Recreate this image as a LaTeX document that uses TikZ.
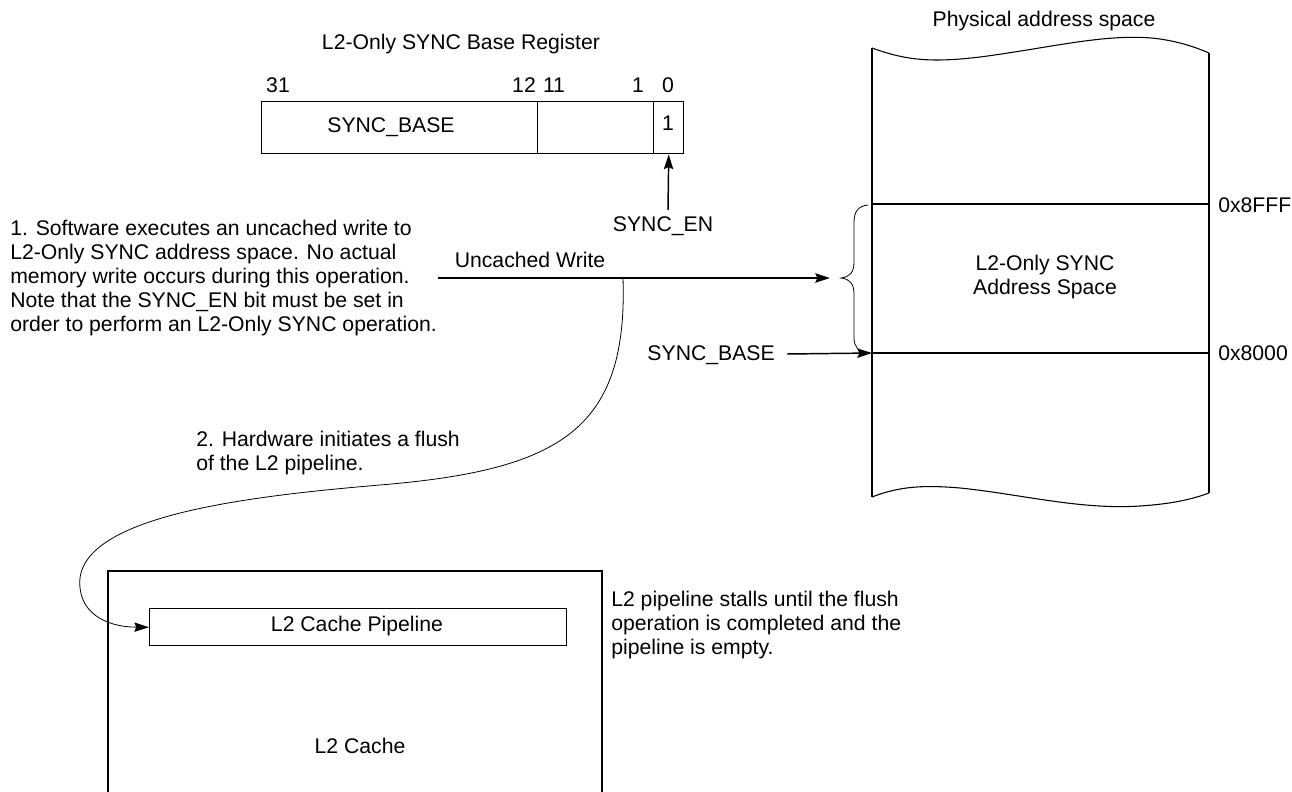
\documentclass[tikz,border=0pt]{standalone}
\usepackage{fontspec}
\setmainfont{Liberation Sans}
\usetikzlibrary{arrows.meta}
\begin{document}
\begin{tikzpicture}[x=0.75pt,y=-0.75pt,
  txt/.style={inner sep=0pt, font=\fontsize{15.9}{18}\selectfont},
  para/.style={txt, align=left, anchor=north west},
  box/.style={draw, line width=1.1pt, inner sep=0pt},
  arr/.style={-{Stealth[length=11pt,width=7pt,inset=1.5pt]}, line width=1.1pt},
  thin/.style={line width=0.6pt}]
\useasboundingbox (0,0) rectangle (1292,792);

% register
\node[txt] (title) at (461,44) {L2-Only SYNC Base Register};
\node[box, anchor=north west, minimum width=276*0.75pt, minimum height=52*0.75pt] (f1) at (261,101) {};
\node[box, anchor=north west, minimum width=116*0.75pt, minimum height=52*0.75pt] (f2) at (537,101) {};
\node[box, anchor=north west, minimum width=30*0.75pt, minimum height=52*0.75pt] (f3) at (653,101) {};
\node[txt] (t1) at (391,127) {SYNC\_BASE};
\node[txt] (t3) at (668,123) {1};
\node[txt] (b31) at (278,85) {31};
\node[txt] (b12) at (524,85) {12};
\node[txt] (b11) at (554,85) {11};
\node[txt] (b1) at (638,85) {1};
\node[txt] (b0) at (668,85) {0};
\node[txt] (syncen) at (663,226) {SYNC\_EN};
\coordinate (enbot) at (668,210);
\draw[arr] (enbot) -- (f3.south);

% paragraph 1
\node[para] (p1) at (10,220) {1. Software executes an uncached write to\\L2-Only SYNC address space. No actual\\memory write occurs during this operation.\\Note that the SYNC\_EN bit must be set in\\order to perform an L2-Only SYNC operation.};
\node[txt] (uw) at (530,260) {Uncached Write};
\coordinate (uwstart) at (438,278);
\coordinate (bracetip) at (830,278);
\draw[arr] (uwstart) -- (bracetip);

% physical address space
\node[txt] (phys) at (1044,21) {Physical address space};
\draw[line width=1.1pt] (872,48) -- (872,497);
\draw[line width=1.1pt] (1209,53) -- (1209,493);
\draw[line width=0.8pt] (872,48) .. controls (905,60) and (930,63) .. (980,57) .. controls (1050,48) and (1110,32) .. (1160,39) .. controls (1180,42) and (1195,47) .. (1209,53);
\draw[line width=0.8pt] (872,497) .. controls (900,486) and (925,485) .. (960,488) .. controls (1020,494) and (1080,510) .. (1140,506) .. controls (1170,504) and (1190,500) .. (1209,493);
\coordinate (l8fffL) at (872,204);
\coordinate (l8fffR) at (1209,204);
\coordinate (l8000L) at (872,353);
\coordinate (l8000R) at (1209,353);
\draw[line width=1.1pt] (l8fffL) -- (l8fffR);
\draw[line width=1.1pt] (l8000L) -- (l8000R);
\node[txt, anchor=west] (a8fff) at (1218,205) {0x8FFF};
\node[txt, anchor=west] (a8000) at (1218,353) {0x8000};
\node[txt, align=center] (sync) at (1045,277) {L2-Only SYNC\\Address Space};
\draw[thin] (868,205) .. controls (858,206) and (854,212) .. (854,222) -- (854,262) .. controls (854,272) and (850,277) .. (841,278) .. controls (850,279) and (854,284) .. (854,294) -- (854,338) .. controls (854,346) and (858,352) .. (868,353);

\node[txt, anchor=east] (sb) at (775,355) {SYNC\_BASE};
\coordinate (sbstart) at (787,354);
\draw[arr] (sbstart) -- (l8000L);

% paragraph 2 and 3
\node[para] (p2) at (196,431) {2. Hardware initiates a flush\\of the L2 pipeline.};
\node[para] (p3) at (611,591) {L2 pipeline stalls until the flush\\operation is completed and the\\pipeline is empty.};

% L2 cache
\draw[line width=1.1pt] (108,800) -- (108,571) -- (602,571) -- (602,800);
\node[box, anchor=north west, minimum width=417*0.75pt, minimum height=37*0.75pt] (pipe) at (149,608) {};
\node[txt] at (357,626) {L2 Cache Pipeline};
\node[txt] (l2c) at (360,746) {L2 Cache};

% flush curve
\coordinate (cstart) at (623,278);
\draw[thin, -{Stealth[length=11pt,width=7pt,inset=1.5pt]}] (cstart) .. controls (628,430) and (560,470) .. (380,485) .. controls (250,496) and (88,515) .. (80,578) .. controls (77,612) and (105,627) .. (pipe.west);
\end{tikzpicture}
\end{document}
